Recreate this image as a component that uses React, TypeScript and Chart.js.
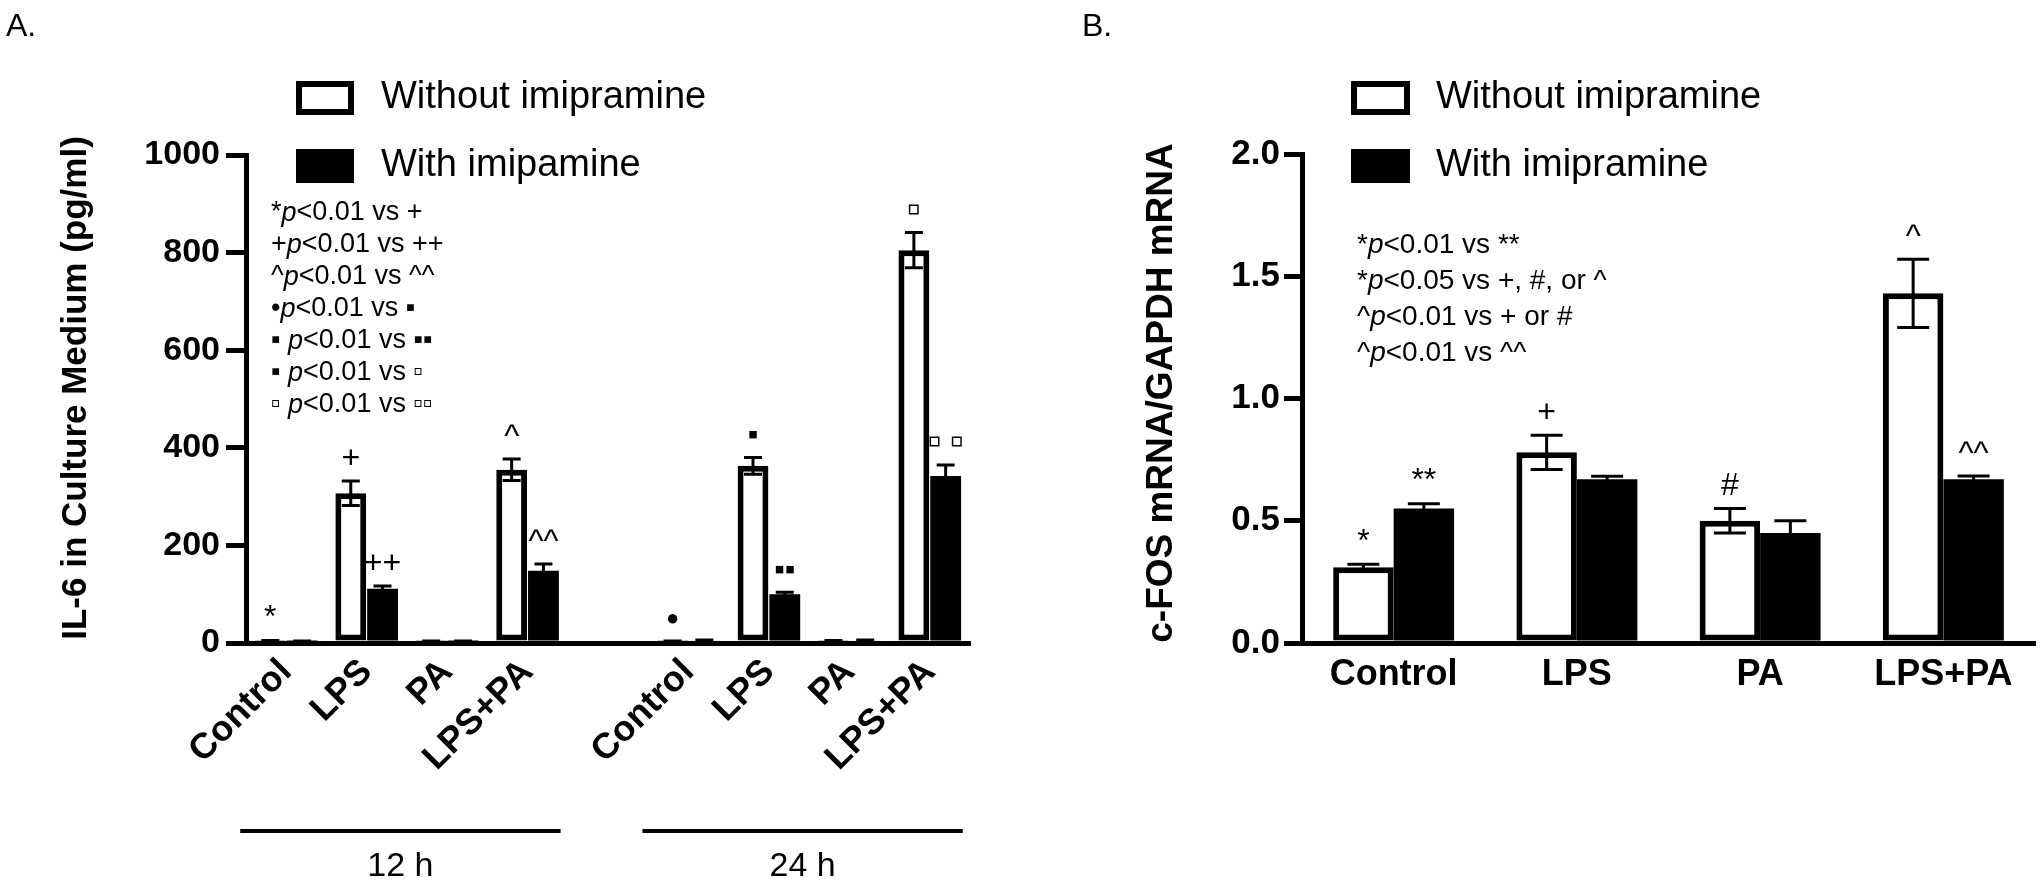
import React, { useEffect, useRef } from "react";
import { Chart, registerables } from "chart.js";

Chart.register(...registerables);

const FONT = "'Liberation Sans', Arial, Helvetica, sans-serif";

// ---------- Panel A: IL-6 ----------
const il6Categories = ["Control", "LPS", "PA", "LPS+PA", "", "Control", "LPS", "PA", "LPS+PA"];
const il6Without = [4, 307, 3, 355, null, 3, 363, 4, 805];
const il6WithoutSem = [1, 25, 1, 22, null, 1, 17, 1, 36];
const il6With = [3, 111, 3, 148, null, 5, 100, 5, 342];
const il6WithSem = [1, 6, 1, 14, null, 1, 4, 1, 23];
const il6WithoutMarks = ["*", "+", "", "^", "", "●", "▪", "", "▫"];
const il6WithMarks = ["", "++", "", "^^", "", "", "▪▪", "", "▫\u2009▫"];
const il6Ticks = [0, 200, 400, 600, 800, 1000];
const il6TimeLabels = ["12 h", "24 h"];
const il6TimeFrom = [0, 5];
const il6TimeTo = [3, 8];
const il6Notes = [
  ["*", "<0.01 vs +"],
  ["+", "<0.01 vs ++"],
  ["^", "<0.01 vs ^^"],
  ["•", "<0.01 vs ▪"],
  ["▪ ", "<0.01 vs ▪▪"],
  ["▪ ", "<0.01 vs ▫"],
  ["▫ ", "<0.01 vs ▫▫"],
];
const il6Legend = ["Without imipramine", "With imipamine"];
const il6Title = "IL-6 in Culture Medium (pg/ml)";

// ---------- Panel B: c-FOS ----------
const fosCategories = ["Control", "LPS", "PA", "LPS+PA"];
const fosWithout = [0.31, 0.78, 0.5, 1.43];
const fosWithoutSem = [0.012, 0.07, 0.05, 0.14];
const fosWith = [0.55, 0.67, 0.45, 0.67];
const fosWithSem = [0.02, 0.012, 0.05, 0.013];
const fosWithoutMarks = ["*", "+", "#", "^"];
const fosWithMarks = ["**", "", "", "^^"];
const fosTicks = [0, 0.5, 1.0, 1.5, 2.0];
const fosNotes = [
  ["*", "<0.01 vs **"],
  ["*", "<0.05 vs +, #, or ^"],
  ["^", "<0.01 vs + or #"],
  ["^", "<0.01 vs ^^"],
];
const fosLegend = ["Without imipramine", "With imipramine"];
const fosTitle = "c-FOS mRNA/GAPDH mRNA";

// glyph-specific sizes for the significance symbols
const MARK_SIZE_OVERRIDE: Record<string, number> = { "●": 22, "▪": 30, "▪▪": 30, "▫": 40, "▫\u2009▫": 40 };

type Decor = {
  key: string;
  sems: (number | null)[][];
  marks: string[][];
  capHalf: number;
  errWidth: number;
  markFont: number;
  markGap: number;
  legendLabels: string[];
  legendBoxX: number;
  legendBoxW: number;
  legendBoxH: number;
  legendTextX: number;
  legendY: number[];
  legendFont: number;
  notes: string[][];
  notesX: number;
  notesY0: number;
  notesStep: number;
  notesFont: number;
  title: string;
  titleX: number;
  titleY: number;
  titleFont: number;
  panelLabel: string;
  panelLabelX: number;
  panelLabelY: number;
  groups?: { labels: string[]; from: number[]; to: number[]; y: number; textY: number; left: number; right: number };
};

function makeDecor(cfg: Decor) {
  return {
    id: "decor_" + cfg.key,
    afterDatasetsDraw(chart: any) {
      const ctx = chart.ctx as CanvasRenderingContext2D;
      const y = chart.scales.y;
      chart.data.datasets.forEach((ds: any, di: number) => {
        const meta = chart.getDatasetMeta(di);
        meta.data.forEach((el: any, j: number) => {
          const v = ds.data[j];
          if (v == null) return;
          const e = (cfg.sems[di][j] as number) || 0;
          const x = el.x;
          const yTop = y.getPixelForValue(v + e);
          const yBot = y.getPixelForValue(v - e);
          ctx.save();
          ctx.strokeStyle = "#000";
          ctx.lineWidth = cfg.errWidth;
          ctx.beginPath();
          ctx.moveTo(x, yTop);
          ctx.lineTo(x, yBot);
          ctx.moveTo(x - cfg.capHalf, yTop);
          ctx.lineTo(x + cfg.capHalf, yTop);
          ctx.moveTo(x - cfg.capHalf, yBot);
          ctx.lineTo(x + cfg.capHalf, yBot);
          ctx.stroke();
          const m = cfg.marks[di][j];
          if (m) {
            const size = MARK_SIZE_OVERRIDE[m] || cfg.markFont;
            ctx.fillStyle = "#000";
            ctx.font = `${size}px ${FONT}`;
            ctx.textAlign = "center";
            ctx.textBaseline = "middle";
            ctx.fillText(m, x, Math.min(yTop, el.y) - cfg.markGap);
          }
          ctx.restore();
        });
      });
    },
    afterDraw(chart: any) {
      const ctx = chart.ctx as CanvasRenderingContext2D;
      ctx.save();
      ctx.fillStyle = "#000";
      // legend
      chart.data.datasets.forEach((ds: any, i: number) => {
        const cy = cfg.legendY[i];
        const bx = cfg.legendBoxX;
        const by = cy - cfg.legendBoxH / 2;
        ctx.fillStyle = "#000";
        ctx.fillRect(bx, by, cfg.legendBoxW, cfg.legendBoxH);
        if (ds.backgroundColor === "#ffffff") {
          const bw = ds.borderWidth;
          ctx.fillStyle = "#ffffff";
          ctx.fillRect(bx + bw, by + bw, cfg.legendBoxW - 2 * bw, cfg.legendBoxH - 2 * bw);
        }
        ctx.fillStyle = "#000";
        ctx.font = `${cfg.legendFont}px ${FONT}`;
        ctx.textAlign = "left";
        ctx.textBaseline = "middle";
        ctx.fillText(cfg.legendLabels[i], cfg.legendTextX, cy);
      });
      // notes with italic p
      cfg.notes.forEach((parts, i) => {
        const ny = cfg.notesY0 + i * cfg.notesStep;
        let nx = cfg.notesX;
        ctx.textAlign = "left";
        ctx.textBaseline = "middle";
        ctx.font = `${cfg.notesFont}px ${FONT}`;
        ctx.fillText(parts[0], nx, ny);
        nx += ctx.measureText(parts[0]).width;
        ctx.font = `italic ${cfg.notesFont}px ${FONT}`;
        ctx.fillText("p", nx, ny);
        nx += ctx.measureText("p").width;
        ctx.font = `${cfg.notesFont}px ${FONT}`;
        ctx.fillText(parts[1], nx, ny);
      });
      // axis title
      ctx.save();
      ctx.translate(cfg.titleX, cfg.titleY);
      ctx.rotate(-Math.PI / 2);
      ctx.font = `bold ${cfg.titleFont}px ${FONT}`;
      ctx.textAlign = "center";
      ctx.textBaseline = "middle";
      ctx.fillText(cfg.title, 0, 0);
      ctx.restore();
      // panel label
      ctx.font = `32px ${FONT}`;
      ctx.textAlign = "left";
      ctx.textBaseline = "alphabetic";
      ctx.fillText(cfg.panelLabel, cfg.panelLabelX, cfg.panelLabelY);
      // time groups
      if (cfg.groups) {
        const g = cfg.groups;
        const xs = chart.scales.x;
        g.labels.forEach((lab, i) => {
          const x1 = xs.getPixelForValue(g.from[i]) - g.left;
          const x2 = xs.getPixelForValue(g.to[i]) + g.right;
          ctx.strokeStyle = "#000";
          ctx.lineWidth = 4;
          ctx.beginPath();
          ctx.moveTo(x1, g.y);
          ctx.lineTo(x2, g.y);
          ctx.stroke();
          ctx.font = `34px ${FONT}`;
          ctx.textAlign = "center";
          ctx.textBaseline = "middle";
          ctx.fillText(lab, (x1 + x2) / 2, g.textY);
        });
      }
      ctx.restore();
    },
  };
}

function buildA(): any {
  return {
    type: "bar",
    data: {
      labels: il6Categories,
      datasets: [
        {
          label: il6Legend[0],
          data: il6Without,
          backgroundColor: "#ffffff",
          borderColor: "#000000",
          borderWidth: 6,
          borderSkipped: false,
          categoryPercentage: 0.79,
          barPercentage: 0.97,
        },
        {
          label: il6Legend[1],
          data: il6With,
          backgroundColor: "#000000",
          borderColor: "#000000",
          borderWidth: 0,
          categoryPercentage: 0.79,
          barPercentage: 0.97,
        },
      ],
    },
    options: {
      responsive: false,
      animation: false,
      devicePixelRatio: 1,
      layout: { padding: { left: 0, right: 70, top: 155, bottom: 0 } },
      plugins: { legend: { display: false }, tooltip: { enabled: false } },
      scales: {
        x: {
          afterFit: (s: any) => {
            s.height = 242;
          },
          ticks: {
            font: { family: FONT, size: 36, weight: "bold" },
            color: "#000",
            minRotation: 45,
            maxRotation: 45,
            autoSkip: false,
            padding: 8,
          },
          grid: { display: false, drawTicks: false },
          border: { display: true, width: 5, color: "#000" },
        },
        y: {
          min: 0,
          max: 1000,
          afterFit: (s: any) => {
            s.width = 246;
          },
          afterBuildTicks: (s: any) => {
            s.ticks = il6Ticks.map((v) => ({ value: v }));
          },
          ticks: {
            font: { family: FONT, size: 34, weight: "bold" },
            color: "#000",
            padding: 6,
            callback: (v: any) => String(v),
          },
          grid: { display: true, drawOnChartArea: false, drawTicks: true, tickLength: 20, lineWidth: 5, color: "#000" },
          border: { display: true, width: 5, color: "#000" },
        },
      },
    },
    plugins: [
      makeDecor({
        key: "a",
        sems: [il6WithoutSem, il6WithSem],
        marks: [il6WithoutMarks, il6WithMarks],
        capHalf: 9,
        errWidth: 3,
        markFont: 32,
        markGap: 22,
        legendLabels: il6Legend,
        legendBoxX: 296,
        legendBoxW: 58,
        legendBoxH: 34,
        legendTextX: 381,
        legendY: [98, 166],
        legendFont: 38,
        notes: il6Notes,
        notesX: 271,
        notesY0: 213,
        notesStep: 32,
        notesFont: 27,
        title: il6Title,
        titleX: 76,
        titleY: 388,
        titleFont: 35,
        panelLabel: "A.",
        panelLabelX: 6,
        panelLabelY: 36,
        groups: { labels: il6TimeLabels, from: il6TimeFrom, to: il6TimeTo, y: 831, textY: 867, left: 46, right: 33 },
      }),
    ],
  };
}

function buildB(): any {
  return {
    type: "bar",
    data: {
      labels: fosCategories,
      datasets: [
        {
          label: fosLegend[0],
          data: fosWithout,
          backgroundColor: "#ffffff",
          borderColor: "#000000",
          borderWidth: 6,
          borderSkipped: false,
          categoryPercentage: 0.66,
          barPercentage: 1.0,
        },
        {
          label: fosLegend[1],
          data: fosWith,
          backgroundColor: "#000000",
          borderColor: "#000000",
          borderWidth: 0,
          categoryPercentage: 0.66,
          barPercentage: 1.0,
        },
      ],
    },
    options: {
      responsive: false,
      animation: false,
      devicePixelRatio: 1,
      layout: { padding: { left: 0, right: 5, top: 154, bottom: 0 } },
      plugins: { legend: { display: false }, tooltip: { enabled: false } },
      scales: {
        x: {
          afterFit: (s: any) => {
            s.height = 242;
          },
          ticks: {
            font: { family: FONT, size: 36, weight: "bold" },
            color: "#000",
            maxRotation: 0,
            minRotation: 0,
            autoSkip: false,
            padding: 10,
          },
          grid: { display: false, drawTicks: false },
          border: { display: true, width: 5, color: "#000" },
        },
        y: {
          min: 0,
          max: 2,
          afterFit: (s: any) => {
            s.width = 262;
          },
          afterBuildTicks: (s: any) => {
            s.ticks = fosTicks.map((v) => ({ value: v }));
          },
          ticks: {
            font: { family: FONT, size: 35, weight: "bold" },
            color: "#000",
            padding: 4,
            callback: (v: any) => Number(v).toFixed(1),
          },
          grid: { display: true, drawOnChartArea: false, drawTicks: true, tickLength: 18, lineWidth: 5, color: "#000" },
          border: { display: true, width: 5, color: "#000" },
        },
      },
    },
    plugins: [
      makeDecor({
        key: "b",
        sems: [fosWithoutSem, fosWithSem],
        marks: [fosWithoutMarks, fosWithMarks],
        capHalf: 16,
        errWidth: 3,
        markFont: 32,
        markGap: 22,
        legendLabels: fosLegend,
        legendBoxX: 311,
        legendBoxW: 59,
        legendBoxH: 34,
        legendTextX: 396,
        legendY: [98, 166],
        legendFont: 38,
        notes: fosNotes,
        notesX: 317,
        notesY0: 245,
        notesStep: 36,
        notesFont: 28,
        title: fosTitle,
        titleX: 122,
        titleY: 393,
        titleFont: 37,
        panelLabel: "B.",
        panelLabelX: 42,
        panelLabelY: 36,
      }),
    ],
  };
}

export default function App() {
  const refA = useRef<HTMLCanvasElement>(null);
  const refB = useRef<HTMLCanvasElement>(null);
  useEffect(() => {
    const a = new Chart(refA.current as HTMLCanvasElement, buildA());
    const b = new Chart(refB.current as HTMLCanvasElement, buildB());
    return () => {
      a.destroy();
      b.destroy();
    };
  }, []);
  return (
    <div
      style={{
        position: "absolute",
        left: 0,
        top: 0,
        width: 2040,
        height: 885,
        background: "#ffffff",
        overflow: "hidden",
      }}
    >
      <canvas ref={refA} width={1040} height={885} style={{ position: "absolute", left: 0, top: 0 }} />
      <canvas ref={refB} width={1000} height={885} style={{ position: "absolute", left: 1040, top: 0 }} />
    </div>
  );
}
